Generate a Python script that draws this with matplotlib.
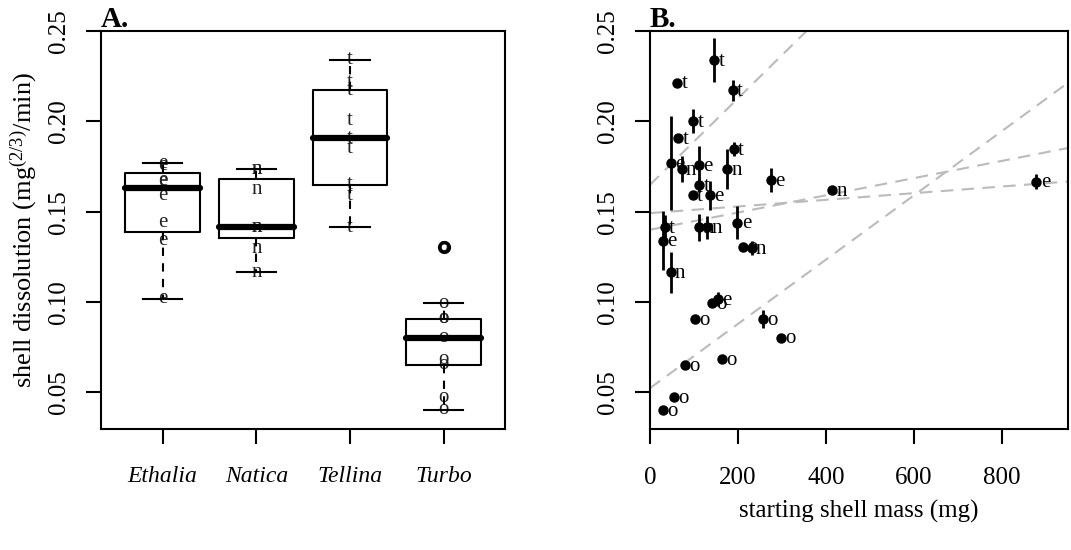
import numpy as np
import matplotlib
matplotlib.use("Agg")
import matplotlib.pyplot as plt

plt.rcParams['font.family'] = ['Liberation Serif', 'DejaVu Serif']
plt.rcParams['mathtext.fontset'] = 'custom'
plt.rcParams['mathtext.rm'] = 'Liberation Serif'
plt.rcParams['mathtext.it'] = 'Liberation Serif:italic'

# data
species = ['Ethalia', 'Natica', 'Tellina', 'Turbo']
letters = ['e', 'n', 't', 'o']

ethalia_mass = [47.7, 111, 275, 136, 879, 199, 29.5, 155]
ethalia_rate = [0.1767, 0.1758, 0.1675, 0.1590, 0.1667, 0.1440, 0.1340, 0.1018]
ethalia_err = [0.026, 0.0105, 0.0067, 0.008, 0.004, 0.009, 0.0165, 0.004]

natica_mass = [72, 175, 414, 112, 130, 231, 47]
natica_rate = [0.1736, 0.1736, 0.1621, 0.1413, 0.1413, 0.1298, 0.1164]
natica_err = [0.007, 0.011, 0.0, 0.0075, 0.0065, 0.004, 0.0112]

tellina_mass = [146, 62, 188, 98.5, 64, 190, 112, 97, 34]
tellina_rate = [0.2340, 0.2215, 0.2171, 0.2003, 0.1907, 0.1848, 0.1649, 0.1592, 0.1413]
tellina_err = [0.012, 0.0, 0.006, 0.0065, 0.0, 0.004, 0.004, 0.0, 0.007]

turbo_mass = [141, 101.5, 257.6, 299, 163.6, 79.5, 53.8, 29.5, 210.6]
turbo_rate = [0.0992, 0.0907, 0.0907, 0.0803, 0.0684, 0.0652, 0.0473, 0.0403, 0.1307]
turbo_err = [0.0, 0.0, 0.005, 0.0, 0.0, 0.0, 0.0, 0.0, 0.0]

# fitted lines (intercept, slope) per species
fit_intercept = [0.1492, 0.1400, 0.1649, 0.0523]
fit_slope = [0.0000184, 0.0000476, 0.000239, 0.0001778]

masses = [ethalia_mass, natica_mass, tellina_mass, turbo_mass]
rates = [ethalia_rate, natica_rate, tellina_rate, turbo_rate]
errs = [ethalia_err, natica_err, tellina_err, turbo_err]


def box_stats(vals, label):
    # Tukey hinges as in R's boxplot
    x = np.sort(np.asarray(vals))
    n = len(x)
    n4 = np.floor((n + 3) / 2) / 2
    d = np.array([1, n4, (n + 1) / 2, n + 1 - n4, n]) - 1
    fn = 0.5 * (x[np.floor(d).astype(int)] + x[np.ceil(d).astype(int)])
    iqr = fn[3] - fn[1]
    inside = x[(x >= fn[1] - 1.5 * iqr) & (x <= fn[3] + 1.5 * iqr)]
    fl = x[(x < fn[1] - 1.5 * iqr) | (x > fn[3] + 1.5 * iqr)]
    return dict(med=fn[2], q1=fn[1], q3=fn[3], whislo=inside.min(),
                whishi=inside.max(), fliers=fl, label=label)


fig = plt.figure(figsize=(10.71, 5.5), dpi=100)
axA = fig.add_axes([0.0943, 0.22, 0.3772, 0.7236])
axB = fig.add_axes([0.6069, 0.22, 0.39, 0.7236])

lw = 1.5
for ax in (axA, axB):
    for s in ax.spines.values():
        s.set_linewidth(lw)
    ax.tick_params(direction='out', length=11, width=lw, labelsize=18)
    ax.set_ylim(0.0297, 0.25)
    ax.set_yticks([0.05, 0.10, 0.15, 0.20, 0.25])
    ax.set_yticklabels(['0.05', '0.10', '0.15', '0.20', '0.25'],
                       rotation=90, va='center')
    ax.tick_params(axis='y', pad=11)
    ax.tick_params(axis='x', pad=16)

# ---- panel A: boxplots with letters
pos = np.arange(1, 5)
for i, r in enumerate(rates):
    for v in r:
        axA.text(pos[i], v, letters[i], ha='center', va='center',
                 fontsize=15, color='#222222', zorder=2)

stats = [box_stats(r, s) for r, s in zip(rates, species)]
axA.bxp(stats, positions=pos, widths=0.8, capwidths=0.42, showfliers=True,
        boxprops=dict(lw=lw, color='black'),
        medianprops=dict(lw=4.5, color='black', solid_capstyle='round'),
        whiskerprops=dict(lw=lw, color='black', linestyle=(0, (4, 3.5))),
        capprops=dict(lw=lw, color='black'),
        flierprops=dict(marker='o', mfc='none', mec='black', mew=2.5, ms=7))
axA.set_xlim(0.342, 4.654)
axA.set_xticks(pos)
axA.set_xticklabels(species, style='italic', fontsize=17)
axA.set_ylabel(r'shell dissolution (mg$^{\mathrm{(2/3)}}$/min)', fontsize=19)
axA.yaxis.set_label_coords(-0.15, 0.5)
axA.text(0.0, 1.01, 'A.', transform=axA.transAxes, fontsize=21,
         fontweight='bold', va='baseline', ha='left')

# ---- panel B: mass vs dissolution
xs = np.array([0, 950])
for a, b in zip(fit_intercept, fit_slope):
    axB.plot(xs, a + b * xs, color='#bbbbbb', lw=1.5,
             linestyle=(0, (6, 4)), zorder=1)

for i in range(4):
    for m, v in zip(masses[i], rates[i]):
        axB.annotate(letters[i], (m, v), xytext=(3, -1),
                     textcoords='offset points', ha='left', va='center',
                     fontsize=15, zorder=2)
for i in range(4):
    axB.errorbar(masses[i], rates[i], yerr=errs[i], fmt='o', color='black',
                 ms=6.5, elinewidth=2, capsize=0, zorder=3)

axB.set_xlim(0, 950)
axB.set_xticks([0, 200, 400, 600, 800])
axB.set_xlabel('starting shell mass (mg)', fontsize=18, labelpad=8)
axB.text(0.0, 1.01, 'B.', transform=axB.transAxes, fontsize=21,
         fontweight='bold', va='baseline', ha='left')

fig.savefig('out.png', dpi=100)
